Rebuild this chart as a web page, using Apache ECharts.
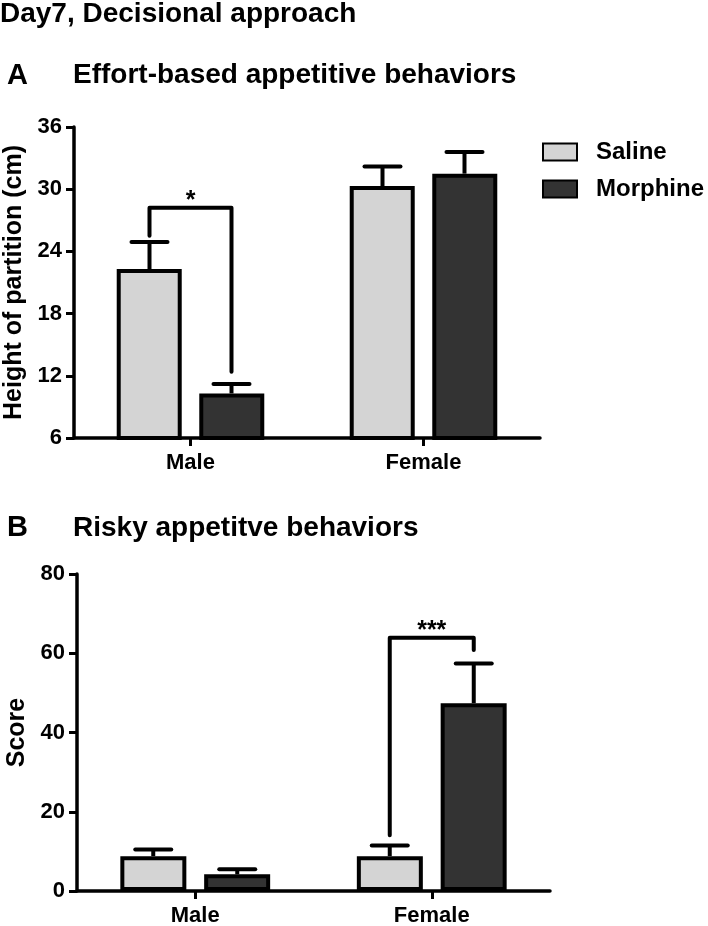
<!DOCTYPE html>
<html>
<head>
<meta charset="utf-8">
<script src="https://cdn.jsdelivr.net/npm/echarts@6/dist/echarts.min.js"></script>
<style>
html,body{margin:0;padding:0;background:#fff;}
#chart{width:708px;height:926px;}
</style>
</head>
<body>
<div id="chart"></div>
<script>
// ---- data ----
const categories = ['Male', 'Female'];
const seriesNames = ['Saline', 'Morphine'];

// Panel A: Effort-based appetitive behaviors (Height of partition, cm)
const aSaline = [22.3, 30.3];
const aMorphine = [10.3, 31.5];
const aSalineErr = [24.9, 32.2];
const aMorphineErr = [11.2, 33.6];
const aTicks = [6, 12, 18, 24, 30, 36];
// bracket: [category, leftBottom, top, rightBottom, label]
const aBracket = [0, 25.5, 28.2, 12.4, '*'];

// Panel B: Risky appetitive behaviors (Score)
const bSaline = [8.8, 8.8];
const bMorphine = [4.2, 47.4];
const bSalineErr = [10.5, 11.5];
const bMorphineErr = [5.5, 57.4];
const bTicks = [0, 20, 40, 60, 80];
const bBracket = [1, 14.1, 63.9, 60.8, '***'];

// ---- chart ----
const FONT = '"Liberation Sans", Arial, Helvetica, sans-serif';
const chart = echarts.init(document.getElementById('chart'), null, {renderer: 'canvas'});

const salineColor = '#d4d4d4';
const morphineColor = '#333333';

function errSeries(name, means, errs, gridIdx, offset) {
  return {
    type: 'custom',
    name: name + ' SEM',
    xAxisIndex: gridIdx, yAxisIndex: gridIdx,
    z: 5,
    silent: true,
    data: means.map((m, i) => [i, m, errs[i]]),
    renderItem: function (params, api) {
      const c = api.coord([api.value(0), api.value(1)]);
      const e = api.coord([api.value(0), api.value(2)]);
      const x = c[0] + offset;
      const cap = 18;
      return {
        type: 'group',
        children: [
          {type: 'line', shape: {x1: x, y1: c[1], x2: x, y2: e[1]}, style: {stroke: '#000', lineWidth: 4}},
          {type: 'line', shape: {x1: x - cap, y1: e[1], x2: x + cap, y2: e[1]}, style: {stroke: '#000', lineWidth: 4, lineCap: 'round'}}
        ]
      };
    }
  };
}

function bracketSeries(br, gridIdx, offset) {
  return {
    type: 'custom',
    name: 'sig' + gridIdx,
    xAxisIndex: gridIdx, yAxisIndex: gridIdx,
    z: 6,
    silent: true,
    data: [[br[0], br[1], br[2], br[3]]],
    renderItem: function (params, api) {
      const cat = api.value(0);
      const lb = api.coord([cat, api.value(1)]);
      const tp = api.coord([cat, api.value(2)]);
      const rb = api.coord([cat, api.value(3)]);
      const xl = lb[0] - offset, xr = lb[0] + offset;
      return {
        type: 'group',
        children: [
          {type: 'polyline', shape: {points: [[xl, lb[1]], [xl, tp[1]], [xr, tp[1]], [xr, rb[1]]]},
           style: {stroke: '#000', lineWidth: 4, fill: null, lineCap: 'round', lineJoin: 'round'}},
          {type: 'text', style: {text: br[4], x: (xl + xr) / 2, y: tp[1] - 7, align: 'center', verticalAlign: 'middle',
            fontSize: 25, fontWeight: 'bold', fontFamily: FONT, fill: '#000'}}
        ]
      };
    }
  };
}

function barSeries(name, data, gridIdx, color, width) {
  return {
    type: 'bar',
    name: name,
    xAxisIndex: gridIdx, yAxisIndex: gridIdx,
    data: data,
    barWidth: width,
    barGap: '27%',
    itemStyle: {color: color, borderColor: '#000', borderWidth: 4},
    emphasis: {disabled: true}
  };
}

const axisLineStyle = {show: true, lineStyle: {color: '#000', width: 3.5}};
const tickStyle = {show: true, length: 8, lineStyle: {color: '#000', width: 3}};
const labelStyle = {color: '#000', fontSize: 22, fontWeight: 'bold', fontFamily: FONT};

function xAxis(gridIdx) {
  return {
    type: 'category', gridIndex: gridIdx, data: categories,
    axisLine: axisLineStyle,
    axisTick: Object.assign({alignWithLabel: true}, tickStyle),
    axisLabel: Object.assign({margin: 14}, labelStyle),
    splitLine: {show: false}
  };
}
function yAxis(gridIdx, ticks, name) {
  return {
    type: 'value', gridIndex: gridIdx,
    min: ticks[0], max: ticks[ticks.length - 1], interval: ticks[1] - ticks[0],
    name: name, nameLocation: 'middle', nameGap: 46,
    nameTextStyle: {color: '#000', fontSize: 25, fontWeight: 'bold', fontFamily: FONT},
    axisLine: axisLineStyle,
    axisTick: tickStyle,
    axisLabel: Object.assign({margin: 12}, labelStyle),
    splitLine: {show: false}
  };
}

const titleStyle = (size) => ({color: '#000', fontSize: size, fontWeight: 'bold', fontFamily: FONT});

const option = {
  backgroundColor: '#fff',
  animation: false,
  title: [
    {text: 'Day7, Decisional approach', left: 0, top: 0, padding: 0, textStyle: titleStyle(28)},
    {text: 'A', left: 7, top: 61, padding: 0, textStyle: titleStyle(29)},
    {text: 'Effort-based appetitive behaviors', left: 73, top: 61, padding: 0, textStyle: titleStyle(28)},
    {text: 'B', left: 7, top: 513, padding: 0, textStyle: titleStyle(29)},
    {text: 'Risky appetitve behaviors', left: 73, top: 514, padding: 0, textStyle: titleStyle(28)}
  ],
  legend: {
    data: seriesNames,
    orient: 'vertical',
    left: 542, top: 140,
    padding: 0,
    itemWidth: 34, itemHeight: 17,
    itemGap: 13,
    icon: 'rect',
    selectedMode: false,
    textStyle: {color: '#000', fontSize: 24, fontWeight: 'bold', fontFamily: FONT, padding: [0, 0, 0, 14]}
  },
  grid: [
    {left: 74, top: 127, width: 466, height: 311, outerBoundsMode: 'none', containLabel: false},
    {left: 77, top: 574, width: 473, height: 317, outerBoundsMode: 'none', containLabel: false}
  ],
  xAxis: [xAxis(0), xAxis(1)],
  yAxis: [yAxis(0, aTicks, 'Height of partition (cm)'), yAxis(1, bTicks, 'Score')],
  series: [
    barSeries('Saline', aSaline, 0, salineColor, 65),
    barSeries('Morphine', aMorphine, 0, morphineColor, 65),
    barSeries('Saline', bSaline, 1, salineColor, 66),
    barSeries('Morphine', bMorphine, 1, morphineColor, 66),
    errSeries('Saline', aSaline, aSalineErr, 0, -41),
    errSeries('Morphine', aMorphine, aMorphineErr, 0, 41),
    errSeries('Saline', bSaline, bSalineErr, 1, -42),
    errSeries('Morphine', bMorphine, bMorphineErr, 1, 42),
    bracketSeries(aBracket, 0, 41),
    bracketSeries(bBracket, 1, 42)
  ]
};
chart.setOption(option);
</script>
</body>
</html>
